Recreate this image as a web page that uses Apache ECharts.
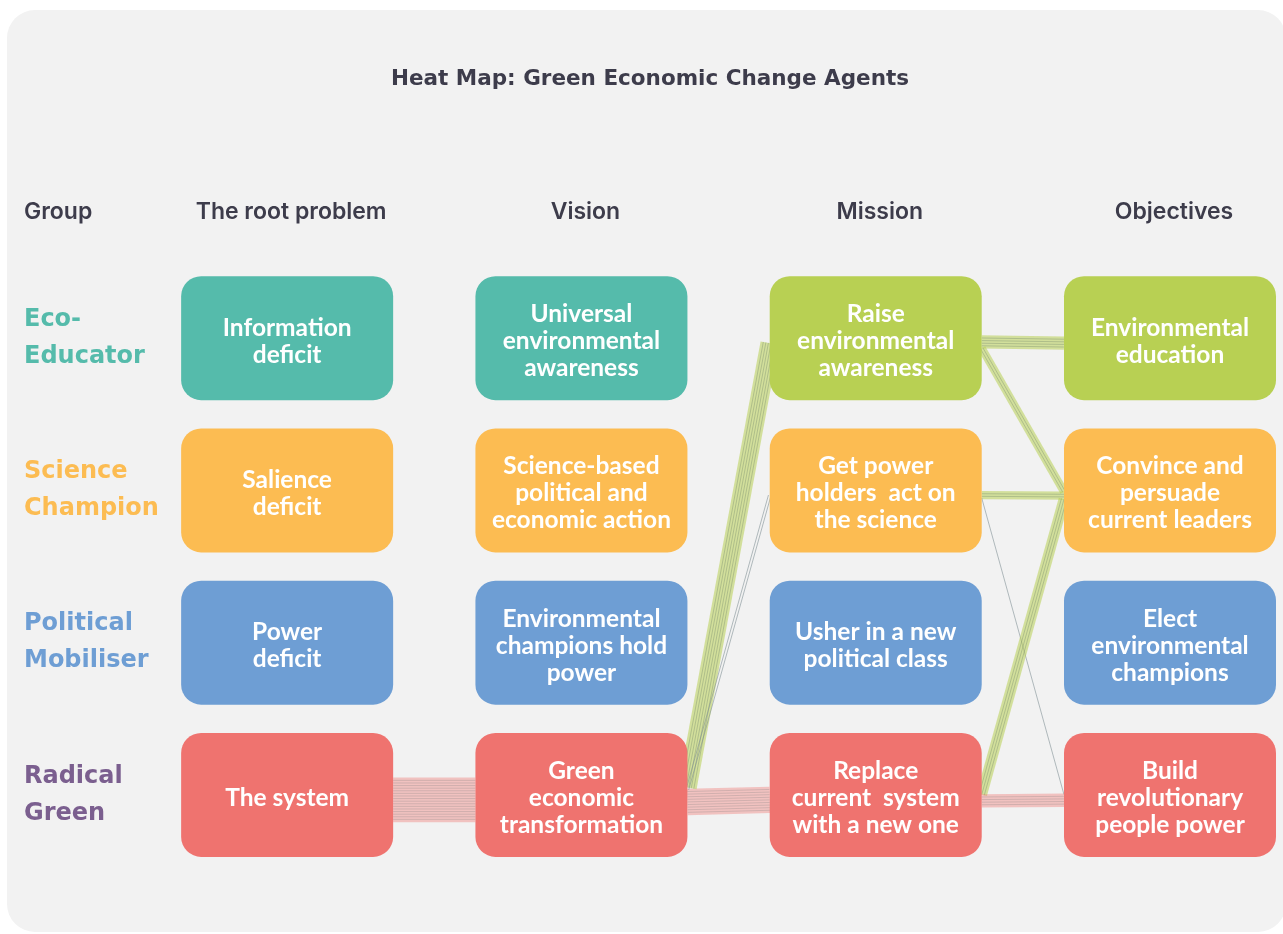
<!DOCTYPE html>
<html>
<head>
<meta charset="utf-8">
<title>Heat Map: Green Economic Change Agents</title>
<script src="https://cdn.jsdelivr.net/npm/echarts@6/dist/echarts.min.js"></script>
<style>
  html, body { margin: 0; padding: 0; background: #fff; }
  #main { width: 1283px; height: 934px; }
</style>
</head>
<body>
<div id="main"></div>
<script>
// column headers and group names
const columns = ['The root problem', 'Vision', 'Mission', 'Objectives'];
const groups = ['Eco-\nEducator', 'Science\nChampion', 'Political\nMobiliser', 'Radical\nGreen'];

// text of each cell, by row (group) then column
const cellLabels = [
  ['Information\ndeficit', 'Universal\nenvironmental\nawareness', 'Raise\nenvironmental\nawareness', 'Environmental\neducation'],
  ['Salience\ndeficit', 'Science-based\npolitical and\neconomic action', 'Get power\nholders  act on\nthe science', 'Convince and\npersuade\ncurrent leaders'],
  ['Power\ndeficit', 'Environmental\nchampions hold\npower', 'Usher in a new\npolitical class', 'Elect\nenvironmental\nchampions'],
  ['The system', 'Green\neconomic\ntransformation', 'Replace\ncurrent  system\nwith a new one', 'Build\nrevolutionary\npeople power']
];
// colour key of each cell
const cellTone = [
  [0, 0, 4, 4],
  [1, 1, 1, 1],
  [2, 2, 2, 2],
  [3, 3, 3, 3]
];

// flows: [column, row] of source and target, number of strands, strand colour
const flowFrom = [[0, 3], [1, 3], [1, 3], [1, 3], [2, 0], [2, 0], [2, 1], [2, 1], [2, 3], [2, 3]];
const flowTo = [[1, 3], [2, 3], [2, 0], [2, 1], [3, 0], [3, 1], [3, 1], [3, 3], [3, 1], [3, 3]];
const flowCounts = [16, 9, 6, 2, 4, 2, 2, 1, 3, 4];
const flowTones = ['red', 'red', 'green', 'none', 'green', 'green', 'green', 'none', 'green', 'red'];

const palette = ['#55bbab', '#fcbc52', '#6e9ed4', '#ef736f', '#b8d053'];
const groupColours = ['#55bbab', '#fcbc52', '#6e9ed4', '#7b5f8f'];
const bandColour = { red: 'rgba(239,115,111,0.38)', green: 'rgba(184,208,83,0.55)' };
const strandColour = { red: 'rgba(150,140,140,0.45)', green: 'rgba(120,140,110,0.5)', none: 'rgba(130,145,150,0.75)' };

const BOX_W = 212, BOX_H = 124, BOX_R = 20;
const TEXT_DY = 3;
const LINE_GAP = 2.6;
const STACK_SHIFT = 5;
const INK = '#3d3c4b';
const HEAVY = 'DejaVu Sans';

// end points of every flow, stacked per box side (worked out once from the axes)
let ends = null;
function flowEnds(api) {
  const pts = flowFrom.map((f, i) => {
    const a = api.coord(f), b = api.coord(flowTo[i]);
    return { x1: a[0] + BOX_W / 2, y1: a[1], x2: b[0] - BOX_W / 2, y2: b[1] };
  });
  // vertical room a flow takes at its end: thinner when it is steep
  const room = pts.map((p, i) => flowCounts[i] * LINE_GAP * Math.abs(p.x2 - p.x1) / Math.hypot(p.x2 - p.x1, p.y2 - p.y1));
  function stack(side, other, key) {
    const map = {};
    side.forEach((e, i) => {
      const k = e.join(',');
      (map[k] = map[k] || []).push(i);
    });
    Object.values(map).forEach(list => {
      list.sort((a, b) => other[a][1] - other[b][1] || other[a][0] - other[b][0]);
      const total = list.reduce((s, i) => s + room[i], 0);
      let acc = -total / 2 + STACK_SHIFT;
      list.forEach(i => {
        pts[i][key] += acc + room[i] / 2;
        acc += room[i];
      });
    });
  }
  stack(flowFrom, flowTo, 'y1');
  stack(flowTo, flowFrom, 'y2');
  return pts;
}

const cells = [];
cellLabels.forEach((r, row) => r.forEach((t, col) => cells.push([col, row])));

function renderBox(params, api) {
  const col = api.value(0), row = api.value(1);
  const c = api.coord([col, row]);
  return {
    type: 'group',
    children: [
      {
        type: 'rect',
        shape: { x: c[0] - BOX_W / 2, y: c[1] - BOX_H / 2, width: BOX_W, height: BOX_H, r: BOX_R },
        style: { fill: palette[cellTone[row][col]] }
      },
      {
        type: 'text',
        x: c[0],
        y: c[1] + TEXT_DY,
        style: {
          text: cellLabels[row][col],
          fill: '#fff',
          fontFamily: 'Lato',
          fontWeight: 'bold',
          fontSize: 24.5,
          lineHeight: 27,
          align: 'center',
          verticalAlign: 'middle'
        }
      }
    ]
  };
}

function renderFlow(params, api) {
  const i = params.dataIndex;
  if (i === 0 || !ends) ends = flowEnds(api);
  const p = ends[i];
  const len = Math.hypot(p.x2 - p.x1, p.y2 - p.y1);
  const nx = -(p.y2 - p.y1) / len, ny = (p.x2 - p.x1) / len;
  const n = flowCounts[i];
  const tone = flowTones[i];
  const children = [];
  if (tone !== 'none') {
    children.push({
      type: 'line',
      shape: { x1: p.x1, y1: p.y1, x2: p.x2, y2: p.y2 },
      style: { stroke: bandColour[tone], lineWidth: n * LINE_GAP + 3, lineCap: 'butt' }
    });
  }
  for (let k = 0; k < n; k++) {
    const o = (k - (n - 1) / 2) * LINE_GAP;
    children.push({
      type: 'line',
      shape: { x1: p.x1 + nx * o, y1: p.y1 + ny * o, x2: p.x2 + nx * o, y2: p.y2 + ny * o },
      style: { stroke: strandColour[tone], lineWidth: 0.8 }
    });
  }
  return { type: 'group', children: children };
}

function renderHeader(params, api) {
  const c = api.coord([api.value(0), 0]);
  return {
    type: 'text',
    x: c[0] + 4,
    y: 212,
    style: {
      text: columns[params.dataIndex],
      fill: INK,
      fontFamily: 'Inter',
      fontWeight: 600,
      fontSize: 23,
      align: 'center',
      verticalAlign: 'middle'
    }
  };
}

function renderGroup(params, api) {
  const c = api.coord([0, api.value(1)]);
  return {
    type: 'text',
    x: 24,
    y: c[1],
    style: {
      text: groups[params.dataIndex],
      fill: groupColours[params.dataIndex],
      fontFamily: HEAVY,
      fontWeight: 'bold',
      fontSize: 24,
      lineHeight: 37,
      align: 'left',
      verticalAlign: 'middle'
    }
  };
}

const myChart = echarts.init(document.getElementById('main'));
myChart.setOption({
  animation: false,
  backgroundColor: '#fff',
  graphic: [
    {
      type: 'rect',
      z: -10,
      shape: { x: 7, y: 10, width: 1279, height: 922, r: 28 },
      style: { fill: '#f2f2f2' }
    },
    {
      type: 'text',
      x: 650,
      y: 79,
      style: {
        text: 'Heat Map: Green Economic Change Agents',
        fill: INK,
        fontFamily: HEAVY,
        fontWeight: 'bold',
        fontSize: 21.5,
        align: 'center',
        verticalAlign: 'middle'
      }
    },
    {
      type: 'text',
      x: 24,
      y: 212,
      style: {
        text: 'Group',
        fill: INK,
        fontFamily: 'Inter',
        fontWeight: 600,
        fontSize: 23,
        align: 'left',
        verticalAlign: 'middle'
      }
    }
  ],
  grid: { left: 140, right: 10, top: 262, bottom: 63 },
  xAxis: { type: 'value', min: -0.5, max: 3.35, show: false },
  yAxis: { type: 'value', min: -0.5, max: 3.5, inverse: true, show: false },
  series: [
    {
      type: 'custom',
      silent: true,
      z: 1,
      renderItem: renderFlow,
      encode: { x: 0, y: 1 },
      data: flowFrom.map((f, i) => [f[0], f[1], flowCounts[i]])
    },
    {
      type: 'custom',
      silent: true,
      z: 2,
      renderItem: renderBox,
      encode: { x: 0, y: 1 },
      data: cells
    },
    {
      type: 'custom',
      silent: true,
      renderItem: renderHeader,
      encode: { x: 0, y: 1 },
      data: columns.map((c, i) => [i, 0])
    },
    {
      type: 'custom',
      silent: true,
      renderItem: renderGroup,
      encode: { x: 0, y: 1 },
      data: groups.map((g, i) => [0, i])
    }
  ]
});
</script>
</body>
</html>
